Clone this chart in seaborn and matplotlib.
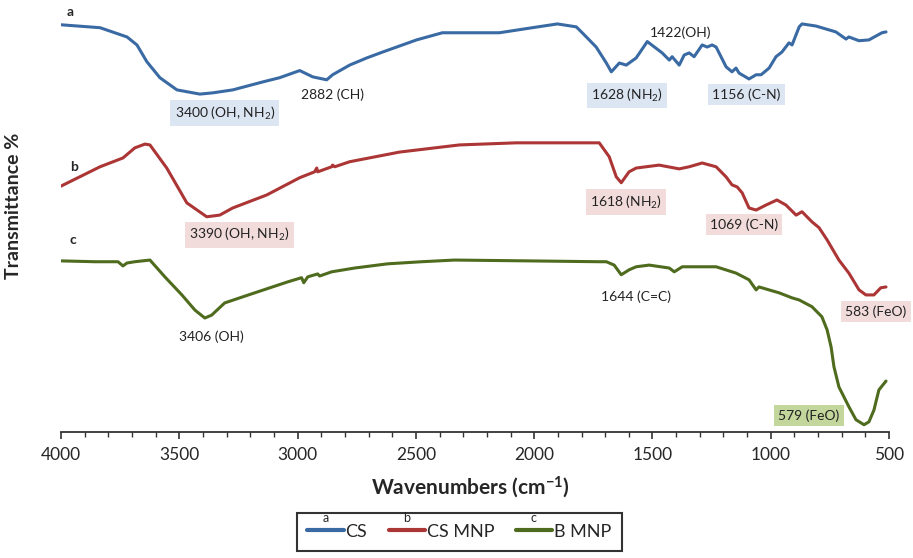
import numpy as np
import pandas as pd
import seaborn as sns
import matplotlib.pyplot as plt
from matplotlib.ticker import MultipleLocator

# FTIR spectra (wavenumber cm-1, offset transmittance %)
cs_wn = [4000, 3835, 3721, 3679, 3637, 3582, 3510, 3413, 3358, 3274, 3147, 3076,
         2991, 2936, 2877, 2852, 2780, 2708, 2641, 2497, 2388, 2358, 2147, 2008,
         1902, 1822, 1797, 1738, 1695, 1674, 1640, 1611, 1569, 1522, 1459, 1429,
         1417, 1387, 1366, 1345, 1324, 1290, 1269, 1248, 1231, 1189, 1164, 1147,
         1134, 1092, 1062, 1041, 1007, 978, 953, 923, 910, 880, 868, 809, 725,
         682, 670, 627, 585, 556, 530, 513]
cs_t = [96.9, 96.2, 94.0, 92.1, 88.1, 84.3, 81.4, 80.4, 80.7, 81.4, 83.3, 84.3,
        86.0, 84.5, 83.8, 85.0, 87.3, 89.0, 90.4, 93.3, 95.0, 95.0, 95.0, 96.2,
        97.1, 96.4, 95.0, 91.6, 87.8, 85.7, 87.8, 87.3, 89.0, 92.9, 90.2, 88.5,
        89.3, 87.3, 89.7, 90.2, 89.3, 92.1, 91.6, 92.1, 91.6, 86.9, 85.7, 86.6,
        85.4, 84.0, 85.0, 85.0, 86.6, 89.3, 90.4, 92.6, 92.1, 96.4, 97.1, 96.6,
        95.2, 93.5, 94.0, 93.1, 93.3, 94.2, 95.0, 95.2]

csmnp_wn = [4000, 3835, 3738, 3688, 3645, 3624, 3553, 3468, 3384, 3329, 3274,
            3130, 2991, 2928, 2919, 2915, 2856, 2852, 2843, 2780, 2569, 2316,
            2075, 1725, 1683, 1653, 1632, 1599, 1569, 1472, 1387, 1345, 1290,
            1231, 1189, 1164, 1142, 1121, 1092, 1062, 1020, 974, 936, 893, 868,
            826, 796, 762, 712, 670, 627, 598, 564, 535, 513]
csmnp_t = [58.5, 63.1, 65.2, 67.6, 68.5, 68.3, 62.8, 54.5, 51.2, 51.6, 53.3,
           56.4, 60.5, 61.9, 62.8, 61.9, 63.1, 63.5, 63.1, 64.3, 66.6, 68.3,
           68.8, 68.8, 65.5, 60.7, 59.3, 61.9, 62.8, 63.5, 62.6, 63.1, 64.0,
           63.1, 60.7, 58.8, 58.3, 56.9, 53.3, 52.8, 54.0, 55.2, 54.0, 51.6,
           52.4, 50.0, 48.6, 45.7, 40.9, 37.8, 33.8, 32.6, 32.6, 34.3, 34.5]

bmnp_wn = [4000, 3856, 3759, 3738, 3721, 3688, 3624, 3561, 3489, 3434, 3392,
           3363, 3308, 3181, 3042, 2983, 2974, 2957, 2915, 2907, 2856, 2759,
           2620, 2476, 2337, 2020, 1725, 1695, 1662, 1632, 1598, 1569, 1514,
           1429, 1408, 1374, 1231, 1147, 1092, 1062, 1050, 965, 910, 880, 826,
           784, 762, 745, 733, 712, 670, 640, 606, 585, 564, 543, 513]
bmnp_t = [40.7, 40.5, 40.5, 39.5, 40.2, 40.5, 40.9, 36.9, 32.6, 29.0, 27.1,
          27.8, 30.7, 33.1, 35.7, 36.7, 35.5, 36.9, 37.6, 37.1, 38.1, 39.0,
          40.0, 40.5, 40.9, 40.7, 40.5, 40.5, 39.7, 37.4, 38.6, 39.3, 39.7,
          39.0, 38.1, 39.3, 39.3, 37.8, 36.2, 33.8, 34.5, 33.1, 31.9, 31.4,
          29.8, 27.4, 24.3, 20.2, 15.5, 10.7, 6.0, 2.9, 1.7, 2.4, 5.2, 10.0, 12.1]

series_names = ["CS", "CS MNP", "B MNP"]
series_letters = ["a", "b", "c"]
colors = ["#3a6aa3", "#ac3535", "#4e6b1e"]

# peak annotations: (text, wavenumber, transmittance, box colour or None)
blue_bg, red_bg, green_bg = "#dce6f2", "#f2dcdb", "#c3d69b"
peak_labels = [
    ("3400 (OH, NH$\\mathregular{_2}$)", 3308, 75.9, blue_bg),
    ("2882 (CH)", 2852, 80.2, None),
    ("1628 (NH$\\mathregular{_2}$)", 1607, 80.0, blue_bg),
    ("1422(OH)", 1383, 95.0, None),
    ("1156 (C-N)", 1104, 80.2, blue_bg),
    ("3390 (OH, NH$\\mathregular{_2}$)", 3245, 46.9, red_bg),
    ("1618 (NH$\\mathregular{_2}$)", 1611, 54.7, red_bg),
    ("1069 (C-N)", 1113, 49.3, red_bg),
    ("583 (FeO)", 556, 28.6, red_bg),
    ("1644 (C=C)", 1569, 32.1, None),
    ("3406 (OH)", 3363, 22.6, None),
    ("579 (FeO)", 838, 3.8, green_bg),
]

frames = []
for name, wn, t in zip(series_names, [cs_wn, csmnp_wn, bmnp_wn], [cs_t, csmnp_t, bmnp_t]):
    frames.append(pd.DataFrame({"Wavenumber": wn, "T": t, "Sample": name}))
df = pd.concat(frames, ignore_index=True)

sns.set_style("white")
plt.rcParams['font.family'] = ['Lato', 'DejaVu Sans']
plt.rcParams['mathtext.fontset'] = 'custom'
plt.rcParams['mathtext.rm'] = 'Lato'
plt.rcParams['mathtext.bf'] = 'Lato:bold'

fig = plt.figure(figsize=(9.13, 5.58), dpi=100)
ax = fig.add_axes([0.0668, 0.226, 0.907, 0.765])

sns.lineplot(data=df, x="Wavenumber", y="T", hue="Sample", palette=colors,
             hue_order=series_names, sort=False, estimator=None, linewidth=2.2, ax=ax)

ax.set_xlim(4000, 500)
ax.set_ylim(0, 101.6)
ax.xaxis.set_major_locator(MultipleLocator(500))
ax.xaxis.set_minor_locator(MultipleLocator(100))
ax.tick_params(axis="x", which="major", direction="out", length=5, width=1.2,
               color="#333333", labelsize=12.5, pad=6, bottom=True)
ax.tick_params(axis="x", which="minor", direction="out", length=3.5, width=1.0,
               color="#333333", bottom=True)
ax.set_yticks([])
for s in ["top", "right", "left"]:
    ax.spines[s].set_visible(False)
ax.spines["bottom"].set_color("#333333")
ax.spines["bottom"].set_linewidth(1.3)

ax.set_xlabel("Wavenumbers (cm$\\mathbf{^{-1}}$)", fontsize=15, fontweight="bold")
ax.xaxis.set_label_coords(0.494, -0.10)
ax.set_ylabel("Transmittance %", fontsize=14, fontweight="bold")
ax.yaxis.set_label_coords(-0.047, 0.53)

# curve letters
ax.text(3978, 100.0, "a", fontsize=10, fontweight="bold", va="center")
ax.text(3962, 63.1, "b", fontsize=10, fontweight="bold", va="center")
ax.text(3962, 45.7, "c", fontsize=10, fontweight="bold", va="center")

for txt, x, y, bg in peak_labels:
    kw = {}
    if bg:
        kw["bbox"] = dict(boxstyle="square,pad=0.3", fc=bg, ec="none")
    ax.text(x, y, txt, fontsize=10, ha="center", va="center", color="#222222", **kw)

leg = ax.legend(loc="center", bbox_to_anchor=(0.503, 0.047), bbox_transform=fig.transFigure,
                ncol=3, frameon=True, fancybox=False, fontsize=13, handlelength=2.0,
                handletextpad=0.1, columnspacing=1.2, borderpad=0.6)
leg.get_frame().set_edgecolor("black")
leg.get_frame().set_linewidth(1.5)
for h in leg.legend_handles:
    h.set_linewidth(3)

fig.canvas.draw()
inv = fig.transFigure.inverted()
for h, letter in zip(leg.legend_handles, series_letters):
    bb = h.get_window_extent(fig.canvas.get_renderer())
    cx, cy = inv.transform(((bb.x0 + bb.x1) / 2, (bb.y0 + bb.y1) / 2))
    fig.text(cx, cy + 0.012, letter, fontsize=9, ha="center", va="bottom")

fig.savefig("out.png", dpi=100)
